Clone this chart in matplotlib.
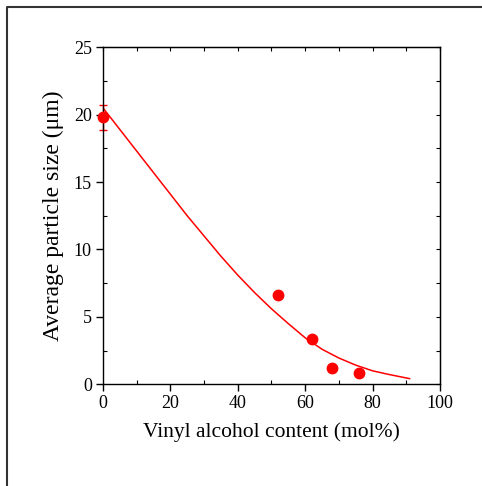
import matplotlib
matplotlib.use("Agg")
import matplotlib.pyplot as plt
from matplotlib.ticker import MultipleLocator
from matplotlib.lines import Line2D

# measured data points
vinyl_alcohol = [0, 52, 62, 68, 76]
particle_size = [19.8, 6.6, 3.35, 1.2, 0.82]
size_error = [0.9, 0, 0, 0, 0]

# fitted curve
fit_x = [0, 5, 10, 15, 20, 25, 30, 35, 40, 45, 50, 55, 60, 65, 70, 75, 80, 85, 91]
fit_y = [20.5, 18.9, 17.3, 15.7, 14.1, 12.5, 11.0, 9.5, 8.1, 6.8, 5.6, 4.5,
         3.45, 2.6, 1.95, 1.42, 1.0, 0.72, 0.42]

plt.rcParams['font.family'] = ['Liberation Serif', 'DejaVu Serif']

fig = plt.figure(figsize=(4.82, 4.86), dpi=100)
ax = fig.add_axes([0.2137, 0.2093, 0.699, 0.6934])

ax.plot(fit_x, fit_y, color="red", lw=1.1)
# only first point has an error bar
ax.errorbar(vinyl_alcohol[:1], particle_size[:1], yerr=size_error[:1], fmt="none",
            ecolor="red", elinewidth=1.0, capsize=3, capthick=1.0, clip_on=False)
ax.plot(vinyl_alcohol, particle_size, "o", color="red", ms=7.5, clip_on=False, zorder=5)

ax.set_xlim(0, 100)
ax.set_ylim(0, 25)
ax.xaxis.set_major_locator(MultipleLocator(20))
ax.xaxis.set_minor_locator(MultipleLocator(10))
ax.yaxis.set_major_locator(MultipleLocator(5))
ax.yaxis.set_minor_locator(MultipleLocator(2.5))

ax.tick_params(which="major", direction="out", length=5, width=1, labelsize=13, pad=3)
ax.tick_params(which="minor", direction="in", length=3, width=0.8)
for s in ax.spines.values():
    s.set_linewidth(1.0)

# top and right: inward ticks, no labels
top = ax.secondary_xaxis("top")
top.xaxis.set_major_locator(MultipleLocator(20))
top.xaxis.set_minor_locator(MultipleLocator(10))
top.tick_params(which="both", direction="in", length=3, width=0.8, labeltop=False)
right = ax.secondary_yaxis("right")
right.yaxis.set_major_locator(MultipleLocator(5))
right.yaxis.set_minor_locator(MultipleLocator(2.5))
right.tick_params(which="both", direction="in", length=3, width=0.8, labelright=False)

ax.set_xlabel("Vinyl alcohol content (mol%)", fontsize=15.5, labelpad=7)
ax.set_ylabel("Average particle size (μm)", fontsize=17, labelpad=7)

# frame around the figure (left and top edges)
fig.add_artist(Line2D([0.0145, 0.0145, 1.0], [0.0, 0.9856, 0.9856],
                      transform=fig.transFigure, color="#333333", lw=1.5))

fig.savefig("out.png", dpi=100)
